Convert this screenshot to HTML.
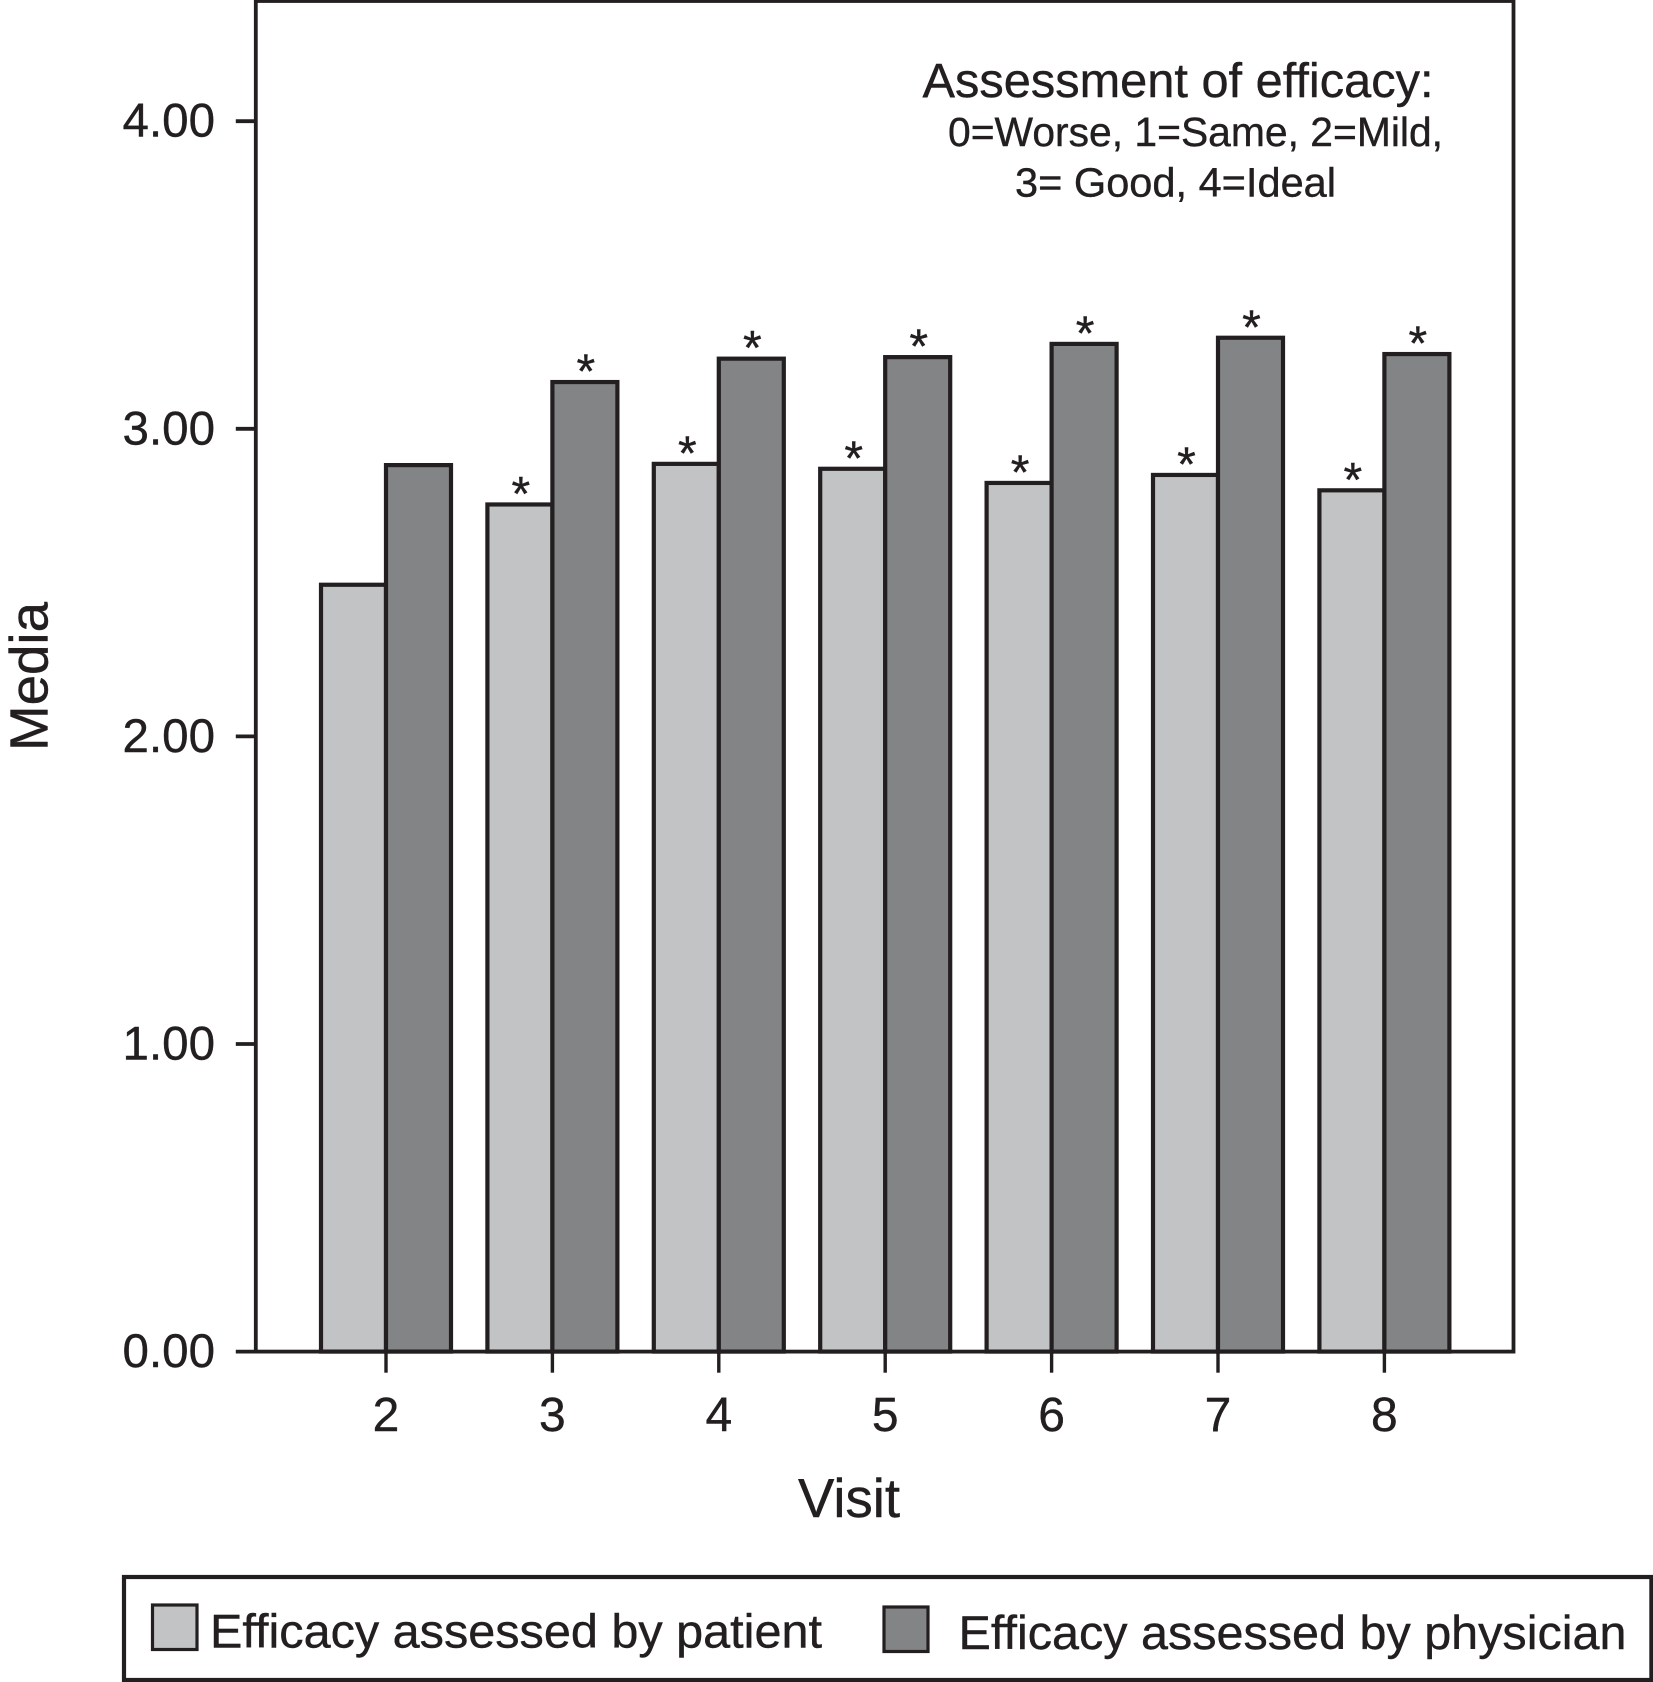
<!DOCTYPE html>
<html lang="en">
<head>
<meta charset="utf-8">
<title>Assessment of efficacy by visit</title>
<style>
html,body{margin:0;padding:0;background:#fff;}
svg{display:block;}
text{font-family:"Liberation Sans",Arial,sans-serif;fill:#231f20;stroke:#231f20;stroke-width:0.4;}
</style>
</head>
<body>
<svg id="chart" xmlns="http://www.w3.org/2000/svg" width="1653" height="1682" viewBox="0 0 1653 1682">
  <rect x="0" y="0" width="1653" height="1682" fill="#ffffff"/>
  <g id="bars"></g>
  <g id="stars"></g>
  <rect x="255.8" y="1" width="1257.7" height="1350.6" fill="none" stroke="#231f20" stroke-width="3.8"/>
  <g id="axes"></g>
  <text x="849" y="1517" font-size="55" text-anchor="middle" textLength="102" lengthAdjust="spacingAndGlyphs">Visit</text>
  <text transform="translate(47.5,676.5) rotate(-90)" font-size="54" text-anchor="middle" textLength="149" lengthAdjust="spacingAndGlyphs">Media</text>
  <g>
    <text x="922.5" y="97" font-size="48" textLength="511" lengthAdjust="spacingAndGlyphs">Assessment of efficacy:</text>
    <text x="948" y="146" font-size="41" textLength="495" lengthAdjust="spacingAndGlyphs">0=Worse, 1=Same, 2=Mild,</text>
    <text x="1015" y="196.5" font-size="41" textLength="321" lengthAdjust="spacingAndGlyphs">3= Good, 4=Ideal</text>
  </g>
  <g>
    <rect x="124" y="1577" width="1527.4" height="103" fill="#ffffff" stroke="#231f20" stroke-width="4.2"/>
    <rect x="152.5" y="1605" width="44.5" height="44.5" fill="#c1c3c4" stroke="#231f20" stroke-width="3.2"/>
    <text x="210" y="1647.7" font-size="47" textLength="612" lengthAdjust="spacingAndGlyphs">Efficacy assessed by patient</text>
    <rect x="884" y="1607" width="44" height="44.5" fill="#828486" stroke="#231f20" stroke-width="3.2"/>
    <text x="958.5" y="1649" font-size="47" textLength="668" lengthAdjust="spacingAndGlyphs">Efficacy assessed by physician</text>
  </g>
</svg>
<script>
const visits = [2, 3, 4, 5, 6, 7, 8];
const patientValues = [2.493, 2.754, 2.886, 2.87, 2.824, 2.85, 2.80];
const physicianValues = [2.882, 3.152, 3.228, 3.233, 3.276, 3.296, 3.243];
const patientStars = [false, true, true, true, true, true, true];
const physicianStars = [false, true, true, true, true, true, true];
const yTickValues = [0, 1, 2, 3, 4];
const yTickLabels = ['0.00', '1.00', '2.00', '3.00', '4.00'];

const NS = 'http://www.w3.org/2000/svg';
const BAR_WIDTH = 65;
const INK = '#231f20';
function xScale(v) { return 386 + (v - visits[0]) * 166.4; }
function yScale(v) { return 1351.6 - v * 307.6; }
function make(tag, attrs, parent) {
  const el = document.createElementNS(NS, tag);
  for (const k in attrs) el.setAttribute(k, attrs[k]);
  parent.appendChild(el);
  return el;
}
const barsGroup = document.getElementById('bars');
const starsGroup = document.getElementById('stars');
const axesGroup = document.getElementById('axes');

visits.forEach(function (v, i) {
  const cx = xScale(v);
  const py = yScale(patientValues[i]);
  const dy = yScale(physicianValues[i]);
  const patientBar = make('rect', {x: cx - BAR_WIDTH, y: py, width: BAR_WIDTH, height: yScale(0) - py, fill: '#c1c3c4', stroke: INK, 'stroke-width': 4.2}, barsGroup);
  
  
  const physicianBar = make('rect', {x: cx, y: dy, width: BAR_WIDTH, height: yScale(0) - dy, fill: '#828486', stroke: INK, 'stroke-width': 4.2}, barsGroup);
  
  
  if (patientStars[i]) {
    const s1 = make('text', {x: cx - BAR_WIDTH / 2 + 1, y: py + 5.5, 'font-size': 48, 'text-anchor': 'middle'}, starsGroup);
    s1.textContent = '*';
    
    
  }
  if (physicianStars[i]) {
    const s2 = make('text', {x: cx + BAR_WIDTH / 2 + 1, y: dy + 5.5, 'font-size': 48, 'text-anchor': 'middle'}, starsGroup);
    s2.textContent = '*';
    
    
  }
  const tick = make('line', {x1: cx, x2: cx, y1: yScale(0), y2: 1372.7, stroke: INK, 'stroke-width': 3.4}, axesGroup);
  
  
  const label = make('text', {x: cx, y: 1431, 'font-size': 48, 'text-anchor': 'middle'}, axesGroup);
  label.textContent = String(v);
  
  
});

yTickValues.forEach(function (t, i) {
  const y = yScale(t);
  const tick = make('line', {x1: 235.8, x2: 256, y1: y, y2: y, stroke: INK, 'stroke-width': 3.8}, axesGroup);
  
  
  const label = make('text', {x: 215, y: y + 15.5, 'font-size': 47.5, 'text-anchor': 'end'}, axesGroup);
  label.textContent = yTickLabels[i];
  
  
});
</script>
</body>
</html>
